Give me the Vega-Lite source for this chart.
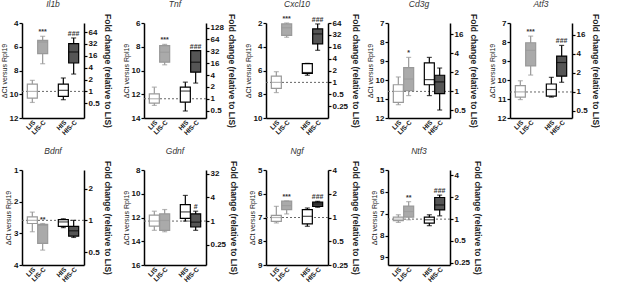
{
"$schema": "https://vega.github.io/schema/vega-lite/v6.json",
"padding": {"left": 0, "top": 0, "right": 0, "bottom": 0},
"datasets": {"boxes": [
{"gene":"Il1b","group":"LIS","min":8.83,"q1":9.14,"median":9.76,"q3":10.32,"max":10.69,"sig":""},
{"gene":"Il1b","group":"LIS-C","min":5.12,"q1":5.46,"median":5.6,"q3":6.58,"max":7.43,"sig":"***"},
{"gene":"Il1b","group":"HIS","min":8.63,"q1":9.14,"median":9.67,"q3":10.18,"max":10.46,"sig":""},
{"gene":"Il1b","group":"HIS-C","min":5.26,"q1":5.74,"median":6.44,"q3":7.37,"max":8.3,"sig":"###"},
{"gene":"Tnf","group":"LIS","min":11.4,"q1":11.96,"median":12.38,"q3":12.74,"max":12.94,"sig":""},
{"gene":"Tnf","group":"LIS-C","min":7.8,"q1":7.9,"median":8.46,"q3":9.3,"max":9.52,"sig":"***"},
{"gene":"Tnf","group":"HIS","min":10.98,"q1":11.4,"median":11.73,"q3":12.66,"max":13.41,"sig":""},
{"gene":"Tnf","group":"HIS-C","min":8.32,"q1":8.33,"median":9.3,"q3":10.14,"max":11.06,"sig":"###"},
{"gene":"Cxcl10","group":"LIS","min":6.1,"q1":6.47,"median":7.0,"q3":7.5,"max":7.86,"sig":""},
{"gene":"Cxcl10","group":"LIS-C","min":2.0,"q1":2.08,"median":2.4,"q3":3.05,"max":3.2,"sig":"***"},
{"gene":"Cxcl10","group":"HIS","min":5.4,"q1":5.42,"median":6.17,"q3":6.25,"max":6.4,"sig":""},
{"gene":"Cxcl10","group":"HIS-C","min":2.08,"q1":2.5,"median":2.92,"q3":3.75,"max":4.3,"sig":"###"},
{"gene":"Cd3g","group":"LIS","min":9.84,"q1":10.25,"median":10.6,"q3":11.18,"max":11.3,"sig":""},
{"gene":"Cd3g","group":"LIS-C","min":8.81,"q1":9.35,"median":9.95,"q3":10.56,"max":10.82,"sig":"*"},
{"gene":"Cd3g","group":"HIS","min":8.81,"q1":9.1,"median":9.98,"q3":10.25,"max":10.82,"sig":""},
{"gene":"Cd3g","group":"HIS-C","min":9.37,"q1":9.75,"median":10.1,"q3":10.72,"max":11.58,"sig":""},
{"gene":"Atf3","group":"LIS","min":10.04,"q1":10.3,"median":10.63,"q3":10.9,"max":11.03,"sig":""},
{"gene":"Atf3","group":"LIS-C","min":7.69,"q1":8.04,"median":8.44,"q3":9.26,"max":9.74,"sig":"***"},
{"gene":"Atf3","group":"HIS","min":9.86,"q1":10.21,"median":10.5,"q3":10.85,"max":10.9,"sig":""},
{"gene":"Atf3","group":"HIS-C","min":8.18,"q1":8.74,"median":9.08,"q3":9.8,"max":10.12,"sig":"###"},
{"gene":"Bdnf","group":"LIS","min":2.33,"q1":2.48,"median":2.59,"q3":2.69,"max":2.95,"sig":""},
{"gene":"Bdnf","group":"LIS-C","min":2.69,"q1":2.72,"median":2.75,"q3":3.32,"max":3.53,"sig":"**"},
{"gene":"Bdnf","group":"HIS","min":2.54,"q1":2.57,"median":2.64,"q3":2.78,"max":2.82,"sig":""},
{"gene":"Bdnf","group":"HIS-C","min":2.59,"q1":2.78,"median":2.92,"q3":3.09,"max":3.13,"sig":""},
{"gene":"Gdnf","group":"LIS","min":11.47,"q1":11.8,"median":12.3,"q3":12.72,"max":13.08,"sig":""},
{"gene":"Gdnf","group":"LIS-C","min":11.33,"q1":11.69,"median":12.25,"q3":13.08,"max":13.2,"sig":""},
{"gene":"Gdnf","group":"HIS","min":10.14,"q1":10.92,"median":11.53,"q3":12.08,"max":12.3,"sig":""},
{"gene":"Gdnf","group":"HIS-C","min":11.47,"q1":11.69,"median":12.39,"q3":12.8,"max":13.08,"sig":"#"},
{"gene":"Ngf","group":"LIS","min":6.03,"q1":6.41,"median":6.5,"q3":6.66,"max":6.73,"sig":""},
{"gene":"Ngf","group":"LIS-C","min":5.8,"q1":5.81,"median":6.0,"q3":6.17,"max":6.35,"sig":"***"},
{"gene":"Ngf","group":"HIS","min":6.1,"q1":6.17,"median":6.45,"q3":6.77,"max":6.87,"sig":""},
{"gene":"Ngf","group":"HIS-C","min":5.82,"q1":5.85,"median":5.93,"q3":6.03,"max":6.07,"sig":"###"},
{"gene":"Ntf3","group":"LIS","min":6.55,"q1":6.66,"median":6.75,"q3":6.82,"max":6.9,"sig":""},
{"gene":"Ntf3","group":"LIS-C","min":5.95,"q1":6.15,"median":6.4,"q3":6.66,"max":6.78,"sig":"**"},
{"gene":"Ntf3","group":"HIS","min":6.55,"q1":6.66,"median":6.78,"q3":6.93,"max":7.05,"sig":""},
{"gene":"Ntf3","group":"HIS-C","min":5.65,"q1":5.76,"median":6.1,"q3":6.33,"max":6.6,"sig":"###"}
]},
"data": {"name": "boxes"},
"columns": 5,
"bounds": "flush",
"spacing": {"row": 52, "column": 60},
"concat": [
{"title": "Il1b", "width": 62, "height": 95, "transform": [{"filter": "datum.gene == 'Il1b'"}],
 "resolve": {"scale": {"y": "independent"}},
 "layer": [
  {"transform": [{"filter": "datum.group == 'LIS'"}], "mark": {"type": "rule", "strokeDash": [2, 2], "color": "#666", "strokeWidth": 1},
   "encoding": {"y": {"field": "median", "type": "quantitative", "scale": {"domain": [4, 12], "reverse": true, "zero": false, "nice": false},
     "axis": {"orient": "right", "title": "Fold change (relative to LIS)", "titleAngle": 90, "titleFontWeight": "bold", "titleFontSize": 8.5, "titlePadding": 3,
       "values": [10.76, 9.76, 8.76, 7.76, 6.76, 5.76, 4.76],
       "labelExpr": "['0.5','1','2','4','16','32','64'][indexof([10.76,9.76,8.76,7.76,6.76,5.76,4.76], datum.value)]"}}}},
  {"encoding": {"x": {"field": "group", "type": "nominal", "scale": {"domain": ["LIS", "LIS-C", "sp", "HIS", "HIS-C"], "paddingInner": 0, "paddingOuter": 0.5},
     "axis": {"title": null, "labelAngle": -45, "labelAlign": "right", "labelBaseline": "top", "ticks": false, "labelFontSize": 6.5, "labelExpr": "datum.value == 'sp' ? '' : datum.value"}}},
   "layer": [
    {"mark": {"type": "rule", "strokeWidth": 1.2}, "encoding": {"y": {"field": "min", "type": "quantitative", "title": "ΔCt versus Rpl19", "scale": {"domain": [4, 12], "reverse": true, "zero": false, "nice": false}, "axis": {"values": [4, 6, 8, 10, 12]}}, "y2": {"field": "max"}, "color": {"field": "group", "type": "nominal", "scale": {"domain": ["LIS", "LIS-C", "HIS", "HIS-C"], "range": ["#999", "#999", "#000", "#000"]}, "legend": null}}},
    {"mark": {"type": "bar", "width": 10, "strokeWidth": 1.2}, "encoding": {"y": {"field": "q1", "type": "quantitative", "title": "ΔCt versus Rpl19", "scale": {"domain": [4, 12], "reverse": true, "zero": false, "nice": false}, "axis": {"values": [4, 6, 8, 10, 12]}}, "y2": {"field": "q3"}, "fill": {"field": "group", "type": "nominal", "scale": {"domain": ["LIS", "LIS-C", "HIS", "HIS-C"], "range": ["#fff", "#aaa", "#fff", "#555"]}, "legend": null}, "stroke": {"field": "group", "type": "nominal", "scale": {"domain": ["LIS", "LIS-C", "HIS", "HIS-C"], "range": ["#999", "#999", "#000", "#000"]}, "legend": null}}},
    {"mark": {"type": "tick", "size": 10, "thickness": 1.2}, "encoding": {"y": {"field": "median", "type": "quantitative", "title": "ΔCt versus Rpl19", "scale": {"domain": [4, 12], "reverse": true, "zero": false, "nice": false}, "axis": {"values": [4, 6, 8, 10, 12]}}, "color": {"field": "group", "type": "nominal", "legend": null}}},
    {"mark": {"type": "tick", "size": 5, "thickness": 1.2}, "encoding": {"y": {"field": "min", "type": "quantitative", "title": "ΔCt versus Rpl19", "scale": {"domain": [4, 12], "reverse": true, "zero": false, "nice": false}, "axis": {"values": [4, 6, 8, 10, 12]}}, "color": {"field": "group", "type": "nominal", "legend": null}}},
    {"mark": {"type": "tick", "size": 5, "thickness": 1.2}, "encoding": {"y": {"field": "max", "type": "quantitative", "title": "ΔCt versus Rpl19", "scale": {"domain": [4, 12], "reverse": true, "zero": false, "nice": false}, "axis": {"values": [4, 6, 8, 10, 12]}}, "color": {"field": "group", "type": "nominal", "legend": null}}},
    {"mark": {"type": "text", "baseline": "bottom", "dy": -1, "fontSize": 7, "fontWeight": "bold", "fill": "#333"}, "encoding": {"y": {"field": "min", "type": "quantitative", "title": "ΔCt versus Rpl19", "scale": {"domain": [4, 12], "reverse": true, "zero": false, "nice": false}, "axis": {"values": [4, 6, 8, 10, 12]}}, "text": {"field": "sig"}}}
   ]}
 ]},
{"title": "Tnf", "width": 62, "height": 95, "transform": [{"filter": "datum.gene == 'Tnf'"}],
 "resolve": {"scale": {"y": "independent"}},
 "layer": [
  {"transform": [{"filter": "datum.group == 'LIS'"}], "mark": {"type": "rule", "strokeDash": [2, 2], "color": "#666", "strokeWidth": 1},
   "encoding": {"y": {"field": "median", "type": "quantitative", "scale": {"domain": [6, 14], "reverse": true, "zero": false, "nice": false},
     "axis": {"orient": "right", "title": "Fold change (relative to LIS)", "titleAngle": 90, "titleFontWeight": "bold", "titleFontSize": 8.5, "titlePadding": 3,
       "values": [13.38, 12.38, 11.38, 10.38, 9.38, 8.38, 7.38, 6.38],
       "labelExpr": "['0.5','1','2','4','16','32','64','128'][indexof([13.38,12.38,11.38,10.38,9.38,8.38,7.38,6.38], datum.value)]"}}}},
  {"encoding": {"x": {"field": "group", "type": "nominal", "scale": {"domain": ["LIS", "LIS-C", "sp", "HIS", "HIS-C"], "paddingInner": 0, "paddingOuter": 0.5},
     "axis": {"title": null, "labelAngle": -45, "labelAlign": "right", "labelBaseline": "top", "ticks": false, "labelFontSize": 6.5, "labelExpr": "datum.value == 'sp' ? '' : datum.value"}}},
   "layer": [
    {"mark": {"type": "rule", "strokeWidth": 1.2}, "encoding": {"y": {"field": "min", "type": "quantitative", "title": "ΔCt versus Rpl19", "scale": {"domain": [6, 14], "reverse": true, "zero": false, "nice": false}, "axis": {"values": [6, 8, 10, 12, 14]}}, "y2": {"field": "max"}, "color": {"field": "group", "type": "nominal", "scale": {"domain": ["LIS", "LIS-C", "HIS", "HIS-C"], "range": ["#999", "#999", "#000", "#000"]}, "legend": null}}},
    {"mark": {"type": "bar", "width": 10, "strokeWidth": 1.2}, "encoding": {"y": {"field": "q1", "type": "quantitative", "title": "ΔCt versus Rpl19", "scale": {"domain": [6, 14], "reverse": true, "zero": false, "nice": false}, "axis": {"values": [6, 8, 10, 12, 14]}}, "y2": {"field": "q3"}, "fill": {"field": "group", "type": "nominal", "scale": {"domain": ["LIS", "LIS-C", "HIS", "HIS-C"], "range": ["#fff", "#aaa", "#fff", "#555"]}, "legend": null}, "stroke": {"field": "group", "type": "nominal", "scale": {"domain": ["LIS", "LIS-C", "HIS", "HIS-C"], "range": ["#999", "#999", "#000", "#000"]}, "legend": null}}},
    {"mark": {"type": "tick", "size": 10, "thickness": 1.2}, "encoding": {"y": {"field": "median", "type": "quantitative", "title": "ΔCt versus Rpl19", "scale": {"domain": [6, 14], "reverse": true, "zero": false, "nice": false}, "axis": {"values": [6, 8, 10, 12, 14]}}, "color": {"field": "group", "type": "nominal", "legend": null}}},
    {"mark": {"type": "tick", "size": 5, "thickness": 1.2}, "encoding": {"y": {"field": "min", "type": "quantitative", "title": "ΔCt versus Rpl19", "scale": {"domain": [6, 14], "reverse": true, "zero": false, "nice": false}, "axis": {"values": [6, 8, 10, 12, 14]}}, "color": {"field": "group", "type": "nominal", "legend": null}}},
    {"mark": {"type": "tick", "size": 5, "thickness": 1.2}, "encoding": {"y": {"field": "max", "type": "quantitative", "title": "ΔCt versus Rpl19", "scale": {"domain": [6, 14], "reverse": true, "zero": false, "nice": false}, "axis": {"values": [6, 8, 10, 12, 14]}}, "color": {"field": "group", "type": "nominal", "legend": null}}},
    {"mark": {"type": "text", "baseline": "bottom", "dy": -1, "fontSize": 7, "fontWeight": "bold", "fill": "#333"}, "encoding": {"y": {"field": "min", "type": "quantitative", "title": "ΔCt versus Rpl19", "scale": {"domain": [6, 14], "reverse": true, "zero": false, "nice": false}, "axis": {"values": [6, 8, 10, 12, 14]}}, "text": {"field": "sig"}}}
   ]}
 ]},
{"title": "Cxcl10", "width": 62, "height": 95, "transform": [{"filter": "datum.gene == 'Cxcl10'"}],
 "resolve": {"scale": {"y": "independent"}},
 "layer": [
  {"transform": [{"filter": "datum.group == 'LIS'"}], "mark": {"type": "rule", "strokeDash": [2, 2], "color": "#666", "strokeWidth": 1},
   "encoding": {"y": {"field": "median", "type": "quantitative", "scale": {"domain": [2, 10], "reverse": true, "zero": false, "nice": false},
     "axis": {"orient": "right", "title": "Fold change (relative to LIS)", "titleAngle": 90, "titleFontWeight": "bold", "titleFontSize": 8.5, "titlePadding": 3,
       "values": [9, 8, 7, 6, 5, 4, 3, 2],
       "labelExpr": "['0.25','0.5','1','2','4','16','32','64'][indexof([9,8,7,6,5,4,3,2], datum.value)]"}}}},
  {"encoding": {"x": {"field": "group", "type": "nominal", "scale": {"domain": ["LIS", "LIS-C", "sp", "HIS", "HIS-C"], "paddingInner": 0, "paddingOuter": 0.5},
     "axis": {"title": null, "labelAngle": -45, "labelAlign": "right", "labelBaseline": "top", "ticks": false, "labelFontSize": 6.5, "labelExpr": "datum.value == 'sp' ? '' : datum.value"}}},
   "layer": [
    {"mark": {"type": "rule", "strokeWidth": 1.2}, "encoding": {"y": {"field": "min", "type": "quantitative", "title": "ΔCt versus Rpl19", "scale": {"domain": [2, 10], "reverse": true, "zero": false, "nice": false}, "axis": {"values": [2, 4, 6, 8, 10]}}, "y2": {"field": "max"}, "color": {"field": "group", "type": "nominal", "scale": {"domain": ["LIS", "LIS-C", "HIS", "HIS-C"], "range": ["#999", "#999", "#000", "#000"]}, "legend": null}}},
    {"mark": {"type": "bar", "width": 10, "strokeWidth": 1.2}, "encoding": {"y": {"field": "q1", "type": "quantitative", "title": "ΔCt versus Rpl19", "scale": {"domain": [2, 10], "reverse": true, "zero": false, "nice": false}, "axis": {"values": [2, 4, 6, 8, 10]}}, "y2": {"field": "q3"}, "fill": {"field": "group", "type": "nominal", "scale": {"domain": ["LIS", "LIS-C", "HIS", "HIS-C"], "range": ["#fff", "#aaa", "#fff", "#555"]}, "legend": null}, "stroke": {"field": "group", "type": "nominal", "scale": {"domain": ["LIS", "LIS-C", "HIS", "HIS-C"], "range": ["#999", "#999", "#000", "#000"]}, "legend": null}}},
    {"mark": {"type": "tick", "size": 10, "thickness": 1.2}, "encoding": {"y": {"field": "median", "type": "quantitative", "title": "ΔCt versus Rpl19", "scale": {"domain": [2, 10], "reverse": true, "zero": false, "nice": false}, "axis": {"values": [2, 4, 6, 8, 10]}}, "color": {"field": "group", "type": "nominal", "legend": null}}},
    {"mark": {"type": "tick", "size": 5, "thickness": 1.2}, "encoding": {"y": {"field": "min", "type": "quantitative", "title": "ΔCt versus Rpl19", "scale": {"domain": [2, 10], "reverse": true, "zero": false, "nice": false}, "axis": {"values": [2, 4, 6, 8, 10]}}, "color": {"field": "group", "type": "nominal", "legend": null}}},
    {"mark": {"type": "tick", "size": 5, "thickness": 1.2}, "encoding": {"y": {"field": "max", "type": "quantitative", "title": "ΔCt versus Rpl19", "scale": {"domain": [2, 10], "reverse": true, "zero": false, "nice": false}, "axis": {"values": [2, 4, 6, 8, 10]}}, "color": {"field": "group", "type": "nominal", "legend": null}}},
    {"mark": {"type": "text", "baseline": "bottom", "dy": -1, "fontSize": 7, "fontWeight": "bold", "fill": "#333"}, "encoding": {"y": {"field": "min", "type": "quantitative", "title": "ΔCt versus Rpl19", "scale": {"domain": [2, 10], "reverse": true, "zero": false, "nice": false}, "axis": {"values": [2, 4, 6, 8, 10]}}, "text": {"field": "sig"}}}
   ]}
 ]},
{"title": "Cd3g", "width": 62, "height": 95, "transform": [{"filter": "datum.gene == 'Cd3g'"}],
 "resolve": {"scale": {"y": "independent"}},
 "layer": [
  {"transform": [{"filter": "datum.group == 'LIS'"}], "mark": {"type": "rule", "strokeDash": [2, 2], "color": "#666", "strokeWidth": 1},
   "encoding": {"y": {"field": "median", "type": "quantitative", "scale": {"domain": [7, 12], "reverse": true, "zero": false, "nice": false},
     "axis": {"orient": "right", "title": "Fold change (relative to LIS)", "titleAngle": 90, "titleFontWeight": "bold", "titleFontSize": 8.5, "titlePadding": 3,
       "values": [11.6, 10.6, 9.6, 8.6, 7.6],
       "labelExpr": "['0.5','1','2','4','16'][indexof([11.6,10.6,9.6,8.6,7.6], datum.value)]"}}}},
  {"encoding": {"x": {"field": "group", "type": "nominal", "scale": {"domain": ["LIS", "LIS-C", "sp", "HIS", "HIS-C"], "paddingInner": 0, "paddingOuter": 0.5},
     "axis": {"title": null, "labelAngle": -45, "labelAlign": "right", "labelBaseline": "top", "ticks": false, "labelFontSize": 6.5, "labelExpr": "datum.value == 'sp' ? '' : datum.value"}}},
   "layer": [
    {"mark": {"type": "rule", "strokeWidth": 1.2}, "encoding": {"y": {"field": "min", "type": "quantitative", "title": "ΔCt versus Rpl19", "scale": {"domain": [7, 12], "reverse": true, "zero": false, "nice": false}, "axis": {"values": [7, 8, 9, 10, 11, 12]}}, "y2": {"field": "max"}, "color": {"field": "group", "type": "nominal", "scale": {"domain": ["LIS", "LIS-C", "HIS", "HIS-C"], "range": ["#999", "#999", "#000", "#000"]}, "legend": null}}},
    {"mark": {"type": "bar", "width": 10, "strokeWidth": 1.2}, "encoding": {"y": {"field": "q1", "type": "quantitative", "title": "ΔCt versus Rpl19", "scale": {"domain": [7, 12], "reverse": true, "zero": false, "nice": false}, "axis": {"values": [7, 8, 9, 10, 11, 12]}}, "y2": {"field": "q3"}, "fill": {"field": "group", "type": "nominal", "scale": {"domain": ["LIS", "LIS-C", "HIS", "HIS-C"], "range": ["#fff", "#aaa", "#fff", "#555"]}, "legend": null}, "stroke": {"field": "group", "type": "nominal", "scale": {"domain": ["LIS", "LIS-C", "HIS", "HIS-C"], "range": ["#999", "#999", "#000", "#000"]}, "legend": null}}},
    {"mark": {"type": "tick", "size": 10, "thickness": 1.2}, "encoding": {"y": {"field": "median", "type": "quantitative", "title": "ΔCt versus Rpl19", "scale": {"domain": [7, 12], "reverse": true, "zero": false, "nice": false}, "axis": {"values": [7, 8, 9, 10, 11, 12]}}, "color": {"field": "group", "type": "nominal", "legend": null}}},
    {"mark": {"type": "tick", "size": 5, "thickness": 1.2}, "encoding": {"y": {"field": "min", "type": "quantitative", "title": "ΔCt versus Rpl19", "scale": {"domain": [7, 12], "reverse": true, "zero": false, "nice": false}, "axis": {"values": [7, 8, 9, 10, 11, 12]}}, "color": {"field": "group", "type": "nominal", "legend": null}}},
    {"mark": {"type": "tick", "size": 5, "thickness": 1.2}, "encoding": {"y": {"field": "max", "type": "quantitative", "title": "ΔCt versus Rpl19", "scale": {"domain": [7, 12], "reverse": true, "zero": false, "nice": false}, "axis": {"values": [7, 8, 9, 10, 11, 12]}}, "color": {"field": "group", "type": "nominal", "legend": null}}},
    {"mark": {"type": "text", "baseline": "bottom", "dy": -1, "fontSize": 7, "fontWeight": "bold", "fill": "#333"}, "encoding": {"y": {"field": "min", "type": "quantitative", "title": "ΔCt versus Rpl19", "scale": {"domain": [7, 12], "reverse": true, "zero": false, "nice": false}, "axis": {"values": [7, 8, 9, 10, 11, 12]}}, "text": {"field": "sig"}}}
   ]}
 ]},
{"title": "Atf3", "width": 62, "height": 95, "transform": [{"filter": "datum.gene == 'Atf3'"}],
 "resolve": {"scale": {"y": "independent"}},
 "layer": [
  {"transform": [{"filter": "datum.group == 'LIS'"}], "mark": {"type": "rule", "strokeDash": [2, 2], "color": "#666", "strokeWidth": 1},
   "encoding": {"y": {"field": "median", "type": "quantitative", "scale": {"domain": [7, 12], "reverse": true, "zero": false, "nice": false},
     "axis": {"orient": "right", "title": "Fold change (relative to LIS)", "titleAngle": 90, "titleFontWeight": "bold", "titleFontSize": 8.5, "titlePadding": 3,
       "values": [11.63, 10.63, 9.63, 8.63, 7.63],
       "labelExpr": "['0.5','1','2','4','16'][indexof([11.63,10.63,9.63,8.63,7.63], datum.value)]"}}}},
  {"encoding": {"x": {"field": "group", "type": "nominal", "scale": {"domain": ["LIS", "LIS-C", "sp", "HIS", "HIS-C"], "paddingInner": 0, "paddingOuter": 0.5},
     "axis": {"title": null, "labelAngle": -45, "labelAlign": "right", "labelBaseline": "top", "ticks": false, "labelFontSize": 6.5, "labelExpr": "datum.value == 'sp' ? '' : datum.value"}}},
   "layer": [
    {"mark": {"type": "rule", "strokeWidth": 1.2}, "encoding": {"y": {"field": "min", "type": "quantitative", "title": "ΔCt versus Rpl19", "scale": {"domain": [7, 12], "reverse": true, "zero": false, "nice": false}, "axis": {"values": [7, 8, 9, 10, 11, 12]}}, "y2": {"field": "max"}, "color": {"field": "group", "type": "nominal", "scale": {"domain": ["LIS", "LIS-C", "HIS", "HIS-C"], "range": ["#999", "#999", "#000", "#000"]}, "legend": null}}},
    {"mark": {"type": "bar", "width": 10, "strokeWidth": 1.2}, "encoding": {"y": {"field": "q1", "type": "quantitative", "title": "ΔCt versus Rpl19", "scale": {"domain": [7, 12], "reverse": true, "zero": false, "nice": false}, "axis": {"values": [7, 8, 9, 10, 11, 12]}}, "y2": {"field": "q3"}, "fill": {"field": "group", "type": "nominal", "scale": {"domain": ["LIS", "LIS-C", "HIS", "HIS-C"], "range": ["#fff", "#aaa", "#fff", "#555"]}, "legend": null}, "stroke": {"field": "group", "type": "nominal", "scale": {"domain": ["LIS", "LIS-C", "HIS", "HIS-C"], "range": ["#999", "#999", "#000", "#000"]}, "legend": null}}},
    {"mark": {"type": "tick", "size": 10, "thickness": 1.2}, "encoding": {"y": {"field": "median", "type": "quantitative", "title": "ΔCt versus Rpl19", "scale": {"domain": [7, 12], "reverse": true, "zero": false, "nice": false}, "axis": {"values": [7, 8, 9, 10, 11, 12]}}, "color": {"field": "group", "type": "nominal", "legend": null}}},
    {"mark": {"type": "tick", "size": 5, "thickness": 1.2}, "encoding": {"y": {"field": "min", "type": "quantitative", "title": "ΔCt versus Rpl19", "scale": {"domain": [7, 12], "reverse": true, "zero": false, "nice": false}, "axis": {"values": [7, 8, 9, 10, 11, 12]}}, "color": {"field": "group", "type": "nominal", "legend": null}}},
    {"mark": {"type": "tick", "size": 5, "thickness": 1.2}, "encoding": {"y": {"field": "max", "type": "quantitative", "title": "ΔCt versus Rpl19", "scale": {"domain": [7, 12], "reverse": true, "zero": false, "nice": false}, "axis": {"values": [7, 8, 9, 10, 11, 12]}}, "color": {"field": "group", "type": "nominal", "legend": null}}},
    {"mark": {"type": "text", "baseline": "bottom", "dy": -1, "fontSize": 7, "fontWeight": "bold", "fill": "#333"}, "encoding": {"y": {"field": "min", "type": "quantitative", "title": "ΔCt versus Rpl19", "scale": {"domain": [7, 12], "reverse": true, "zero": false, "nice": false}, "axis": {"values": [7, 8, 9, 10, 11, 12]}}, "text": {"field": "sig"}}}
   ]}
 ]},
{"title": "Bdnf", "width": 62, "height": 95, "transform": [{"filter": "datum.gene == 'Bdnf'"}],
 "resolve": {"scale": {"y": "independent"}},
 "layer": [
  {"transform": [{"filter": "datum.group == 'LIS'"}], "mark": {"type": "rule", "strokeDash": [2, 2], "color": "#666", "strokeWidth": 1},
   "encoding": {"y": {"field": "median", "type": "quantitative", "scale": {"domain": [1, 4], "reverse": true, "zero": false, "nice": false},
     "axis": {"orient": "right", "title": "Fold change (relative to LIS)", "titleAngle": 90, "titleFontWeight": "bold", "titleFontSize": 8.5, "titlePadding": 3,
       "values": [3.59, 2.59, 1.59],
       "labelExpr": "['0.5','1','2'][indexof([3.59,2.59,1.59], datum.value)]"}}}},
  {"encoding": {"x": {"field": "group", "type": "nominal", "scale": {"domain": ["LIS", "LIS-C", "sp", "HIS", "HIS-C"], "paddingInner": 0, "paddingOuter": 0.5},
     "axis": {"title": null, "labelAngle": -45, "labelAlign": "right", "labelBaseline": "top", "ticks": false, "labelFontSize": 6.5, "labelExpr": "datum.value == 'sp' ? '' : datum.value"}}},
   "layer": [
    {"mark": {"type": "rule", "strokeWidth": 1.2}, "encoding": {"y": {"field": "min", "type": "quantitative", "title": "ΔCt versus Rpl19", "scale": {"domain": [1, 4], "reverse": true, "zero": false, "nice": false}, "axis": {"values": [1, 2, 3, 4]}}, "y2": {"field": "max"}, "color": {"field": "group", "type": "nominal", "scale": {"domain": ["LIS", "LIS-C", "HIS", "HIS-C"], "range": ["#999", "#999", "#000", "#000"]}, "legend": null}}},
    {"mark": {"type": "bar", "width": 10, "strokeWidth": 1.2}, "encoding": {"y": {"field": "q1", "type": "quantitative", "title": "ΔCt versus Rpl19", "scale": {"domain": [1, 4], "reverse": true, "zero": false, "nice": false}, "axis": {"values": [1, 2, 3, 4]}}, "y2": {"field": "q3"}, "fill": {"field": "group", "type": "nominal", "scale": {"domain": ["LIS", "LIS-C", "HIS", "HIS-C"], "range": ["#fff", "#aaa", "#fff", "#555"]}, "legend": null}, "stroke": {"field": "group", "type": "nominal", "scale": {"domain": ["LIS", "LIS-C", "HIS", "HIS-C"], "range": ["#999", "#999", "#000", "#000"]}, "legend": null}}},
    {"mark": {"type": "tick", "size": 10, "thickness": 1.2}, "encoding": {"y": {"field": "median", "type": "quantitative", "title": "ΔCt versus Rpl19", "scale": {"domain": [1, 4], "reverse": true, "zero": false, "nice": false}, "axis": {"values": [1, 2, 3, 4]}}, "color": {"field": "group", "type": "nominal", "legend": null}}},
    {"mark": {"type": "tick", "size": 5, "thickness": 1.2}, "encoding": {"y": {"field": "min", "type": "quantitative", "title": "ΔCt versus Rpl19", "scale": {"domain": [1, 4], "reverse": true, "zero": false, "nice": false}, "axis": {"values": [1, 2, 3, 4]}}, "color": {"field": "group", "type": "nominal", "legend": null}}},
    {"mark": {"type": "tick", "size": 5, "thickness": 1.2}, "encoding": {"y": {"field": "max", "type": "quantitative", "title": "ΔCt versus Rpl19", "scale": {"domain": [1, 4], "reverse": true, "zero": false, "nice": false}, "axis": {"values": [1, 2, 3, 4]}}, "color": {"field": "group", "type": "nominal", "legend": null}}},
    {"mark": {"type": "text", "baseline": "bottom", "dy": -1, "fontSize": 7, "fontWeight": "bold", "fill": "#333"}, "encoding": {"y": {"field": "min", "type": "quantitative", "title": "ΔCt versus Rpl19", "scale": {"domain": [1, 4], "reverse": true, "zero": false, "nice": false}, "axis": {"values": [1, 2, 3, 4]}}, "text": {"field": "sig"}}}
   ]}
 ]},
{"title": "Gdnf", "width": 62, "height": 95, "transform": [{"filter": "datum.gene == 'Gdnf'"}],
 "resolve": {"scale": {"y": "independent"}},
 "layer": [
  {"transform": [{"filter": "datum.group == 'LIS'"}], "mark": {"type": "rule", "strokeDash": [2, 2], "color": "#666", "strokeWidth": 1},
   "encoding": {"y": {"field": "median", "type": "quantitative", "scale": {"domain": [8, 16], "reverse": true, "zero": false, "nice": false},
     "axis": {"orient": "right", "title": "Fold change (relative to LIS)", "titleAngle": 90, "titleFontWeight": "bold", "titleFontSize": 8.5, "titlePadding": 3,
       "values": [14.3, 12.3, 10.3, 8.3],
       "labelExpr": "['0.25','1','4','32'][indexof([14.3,12.3,10.3,8.3], datum.value)]"}}}},
  {"encoding": {"x": {"field": "group", "type": "nominal", "scale": {"domain": ["LIS", "LIS-C", "sp", "HIS", "HIS-C"], "paddingInner": 0, "paddingOuter": 0.5},
     "axis": {"title": null, "labelAngle": -45, "labelAlign": "right", "labelBaseline": "top", "ticks": false, "labelFontSize": 6.5, "labelExpr": "datum.value == 'sp' ? '' : datum.value"}}},
   "layer": [
    {"mark": {"type": "rule", "strokeWidth": 1.2}, "encoding": {"y": {"field": "min", "type": "quantitative", "title": "ΔCt versus Rpl19", "scale": {"domain": [8, 16], "reverse": true, "zero": false, "nice": false}, "axis": {"values": [8, 10, 12, 14, 16]}}, "y2": {"field": "max"}, "color": {"field": "group", "type": "nominal", "scale": {"domain": ["LIS", "LIS-C", "HIS", "HIS-C"], "range": ["#999", "#999", "#000", "#000"]}, "legend": null}}},
    {"mark": {"type": "bar", "width": 10, "strokeWidth": 1.2}, "encoding": {"y": {"field": "q1", "type": "quantitative", "title": "ΔCt versus Rpl19", "scale": {"domain": [8, 16], "reverse": true, "zero": false, "nice": false}, "axis": {"values": [8, 10, 12, 14, 16]}}, "y2": {"field": "q3"}, "fill": {"field": "group", "type": "nominal", "scale": {"domain": ["LIS", "LIS-C", "HIS", "HIS-C"], "range": ["#fff", "#aaa", "#fff", "#555"]}, "legend": null}, "stroke": {"field": "group", "type": "nominal", "scale": {"domain": ["LIS", "LIS-C", "HIS", "HIS-C"], "range": ["#999", "#999", "#000", "#000"]}, "legend": null}}},
    {"mark": {"type": "tick", "size": 10, "thickness": 1.2}, "encoding": {"y": {"field": "median", "type": "quantitative", "title": "ΔCt versus Rpl19", "scale": {"domain": [8, 16], "reverse": true, "zero": false, "nice": false}, "axis": {"values": [8, 10, 12, 14, 16]}}, "color": {"field": "group", "type": "nominal", "legend": null}}},
    {"mark": {"type": "tick", "size": 5, "thickness": 1.2}, "encoding": {"y": {"field": "min", "type": "quantitative", "title": "ΔCt versus Rpl19", "scale": {"domain": [8, 16], "reverse": true, "zero": false, "nice": false}, "axis": {"values": [8, 10, 12, 14, 16]}}, "color": {"field": "group", "type": "nominal", "legend": null}}},
    {"mark": {"type": "tick", "size": 5, "thickness": 1.2}, "encoding": {"y": {"field": "max", "type": "quantitative", "title": "ΔCt versus Rpl19", "scale": {"domain": [8, 16], "reverse": true, "zero": false, "nice": false}, "axis": {"values": [8, 10, 12, 14, 16]}}, "color": {"field": "group", "type": "nominal", "legend": null}}},
    {"mark": {"type": "text", "baseline": "bottom", "dy": -1, "fontSize": 7, "fontWeight": "bold", "fill": "#333"}, "encoding": {"y": {"field": "min", "type": "quantitative", "title": "ΔCt versus Rpl19", "scale": {"domain": [8, 16], "reverse": true, "zero": false, "nice": false}, "axis": {"values": [8, 10, 12, 14, 16]}}, "text": {"field": "sig"}}}
   ]}
 ]},
{"title": "Ngf", "width": 62, "height": 95, "transform": [{"filter": "datum.gene == 'Ngf'"}],
 "resolve": {"scale": {"y": "independent"}},
 "layer": [
  {"transform": [{"filter": "datum.group == 'LIS'"}], "mark": {"type": "rule", "strokeDash": [2, 2], "color": "#666", "strokeWidth": 1},
   "encoding": {"y": {"field": "median", "type": "quantitative", "scale": {"domain": [4.5, 8.5], "reverse": true, "zero": false, "nice": false},
     "axis": {"orient": "right", "title": "Fold change (relative to LIS)", "titleAngle": 90, "titleFontWeight": "bold", "titleFontSize": 8.5, "titlePadding": 3,
       "values": [8.5, 7.5, 6.5, 5.5, 4.5],
       "labelExpr": "['0.25','0.5','1','2','4'][indexof([8.5,7.5,6.5,5.5,4.5], datum.value)]"}}}},
  {"encoding": {"x": {"field": "group", "type": "nominal", "scale": {"domain": ["LIS", "LIS-C", "sp", "HIS", "HIS-C"], "paddingInner": 0, "paddingOuter": 0.5},
     "axis": {"title": null, "labelAngle": -45, "labelAlign": "right", "labelBaseline": "top", "ticks": false, "labelFontSize": 6.5, "labelExpr": "datum.value == 'sp' ? '' : datum.value"}}},
   "layer": [
    {"mark": {"type": "rule", "strokeWidth": 1.2}, "encoding": {"y": {"field": "min", "type": "quantitative", "title": "ΔCt versus Rpl19", "scale": {"domain": [4.5, 8.5], "reverse": true, "zero": false, "nice": false}, "axis": {"values": [4.5, 5.5, 6.5, 7.5, 8.5]}}, "y2": {"field": "max"}, "color": {"field": "group", "type": "nominal", "scale": {"domain": ["LIS", "LIS-C", "HIS", "HIS-C"], "range": ["#999", "#999", "#000", "#000"]}, "legend": null}}},
    {"mark": {"type": "bar", "width": 10, "strokeWidth": 1.2}, "encoding": {"y": {"field": "q1", "type": "quantitative", "title": "ΔCt versus Rpl19", "scale": {"domain": [4.5, 8.5], "reverse": true, "zero": false, "nice": false}, "axis": {"values": [4.5, 5.5, 6.5, 7.5, 8.5]}}, "y2": {"field": "q3"}, "fill": {"field": "group", "type": "nominal", "scale": {"domain": ["LIS", "LIS-C", "HIS", "HIS-C"], "range": ["#fff", "#aaa", "#fff", "#555"]}, "legend": null}, "stroke": {"field": "group", "type": "nominal", "scale": {"domain": ["LIS", "LIS-C", "HIS", "HIS-C"], "range": ["#999", "#999", "#000", "#000"]}, "legend": null}}},
    {"mark": {"type": "tick", "size": 10, "thickness": 1.2}, "encoding": {"y": {"field": "median", "type": "quantitative", "title": "ΔCt versus Rpl19", "scale": {"domain": [4.5, 8.5], "reverse": true, "zero": false, "nice": false}, "axis": {"values": [4.5, 5.5, 6.5, 7.5, 8.5]}}, "color": {"field": "group", "type": "nominal", "legend": null}}},
    {"mark": {"type": "tick", "size": 5, "thickness": 1.2}, "encoding": {"y": {"field": "min", "type": "quantitative", "title": "ΔCt versus Rpl19", "scale": {"domain": [4.5, 8.5], "reverse": true, "zero": false, "nice": false}, "axis": {"values": [4.5, 5.5, 6.5, 7.5, 8.5]}}, "color": {"field": "group", "type": "nominal", "legend": null}}},
    {"mark": {"type": "tick", "size": 5, "thickness": 1.2}, "encoding": {"y": {"field": "max", "type": "quantitative", "title": "ΔCt versus Rpl19", "scale": {"domain": [4.5, 8.5], "reverse": true, "zero": false, "nice": false}, "axis": {"values": [4.5, 5.5, 6.5, 7.5, 8.5]}}, "color": {"field": "group", "type": "nominal", "legend": null}}},
    {"mark": {"type": "text", "baseline": "bottom", "dy": -1, "fontSize": 7, "fontWeight": "bold", "fill": "#333"}, "encoding": {"y": {"field": "min", "type": "quantitative", "title": "ΔCt versus Rpl19", "scale": {"domain": [4.5, 8.5], "reverse": true, "zero": false, "nice": false}, "axis": {"values": [4.5, 5.5, 6.5, 7.5, 8.5]}}, "text": {"field": "sig"}}}
   ]}
 ]},
{"title": "Ntf3", "width": 62, "height": 95, "transform": [{"filter": "datum.gene == 'Ntf3'"}],
 "resolve": {"scale": {"y": "independent"}},
 "layer": [
  {"transform": [{"filter": "datum.group == 'LIS'"}], "mark": {"type": "rule", "strokeDash": [2, 2], "color": "#666", "strokeWidth": 1},
   "encoding": {"y": {"field": "median", "type": "quantitative", "scale": {"domain": [4.5, 8.85], "reverse": true, "zero": false, "nice": false},
     "axis": {"orient": "right", "title": "Fold change (relative to LIS)", "titleAngle": 90, "titleFontWeight": "bold", "titleFontSize": 8.5, "titlePadding": 3,
       "values": [8.75, 7.75, 6.75, 5.75, 4.75],
       "labelExpr": "['0.25','0.5','1','2','4'][indexof([8.75,7.75,6.75,5.75,4.75], datum.value)]"}}}},
  {"encoding": {"x": {"field": "group", "type": "nominal", "scale": {"domain": ["LIS", "LIS-C", "sp", "HIS", "HIS-C"], "paddingInner": 0, "paddingOuter": 0.5},
     "axis": {"title": null, "labelAngle": -45, "labelAlign": "right", "labelBaseline": "top", "ticks": false, "labelFontSize": 6.5, "labelExpr": "datum.value == 'sp' ? '' : datum.value"}}},
   "layer": [
    {"mark": {"type": "rule", "strokeWidth": 1.2}, "encoding": {"y": {"field": "min", "type": "quantitative", "title": "ΔCt versus Rpl19", "scale": {"domain": [4.5, 8.85], "reverse": true, "zero": false, "nice": false}, "axis": {"values": [4.5, 5.5, 6.5, 7.5, 8.5]}}, "y2": {"field": "max"}, "color": {"field": "group", "type": "nominal", "scale": {"domain": ["LIS", "LIS-C", "HIS", "HIS-C"], "range": ["#999", "#999", "#000", "#000"]}, "legend": null}}},
    {"mark": {"type": "bar", "width": 10, "strokeWidth": 1.2}, "encoding": {"y": {"field": "q1", "type": "quantitative", "title": "ΔCt versus Rpl19", "scale": {"domain": [4.5, 8.85], "reverse": true, "zero": false, "nice": false}, "axis": {"values": [4.5, 5.5, 6.5, 7.5, 8.5]}}, "y2": {"field": "q3"}, "fill": {"field": "group", "type": "nominal", "scale": {"domain": ["LIS", "LIS-C", "HIS", "HIS-C"], "range": ["#fff", "#aaa", "#fff", "#555"]}, "legend": null}, "stroke": {"field": "group", "type": "nominal", "scale": {"domain": ["LIS", "LIS-C", "HIS", "HIS-C"], "range": ["#999", "#999", "#000", "#000"]}, "legend": null}}},
    {"mark": {"type": "tick", "size": 10, "thickness": 1.2}, "encoding": {"y": {"field": "median", "type": "quantitative", "title": "ΔCt versus Rpl19", "scale": {"domain": [4.5, 8.85], "reverse": true, "zero": false, "nice": false}, "axis": {"values": [4.5, 5.5, 6.5, 7.5, 8.5]}}, "color": {"field": "group", "type": "nominal", "legend": null}}},
    {"mark": {"type": "tick", "size": 5, "thickness": 1.2}, "encoding": {"y": {"field": "min", "type": "quantitative", "title": "ΔCt versus Rpl19", "scale": {"domain": [4.5, 8.85], "reverse": true, "zero": false, "nice": false}, "axis": {"values": [4.5, 5.5, 6.5, 7.5, 8.5]}}, "color": {"field": "group", "type": "nominal", "legend": null}}},
    {"mark": {"type": "tick", "size": 5, "thickness": 1.2}, "encoding": {"y": {"field": "max", "type": "quantitative", "title": "ΔCt versus Rpl19", "scale": {"domain": [4.5, 8.85], "reverse": true, "zero": false, "nice": false}, "axis": {"values": [4.5, 5.5, 6.5, 7.5, 8.5]}}, "color": {"field": "group", "type": "nominal", "legend": null}}},
    {"mark": {"type": "text", "baseline": "bottom", "dy": -1, "fontSize": 7, "fontWeight": "bold", "fill": "#333"}, "encoding": {"y": {"field": "min", "type": "quantitative", "title": "ΔCt versus Rpl19", "scale": {"domain": [4.5, 8.85], "reverse": true, "zero": false, "nice": false}, "axis": {"values": [4.5, 5.5, 6.5, 7.5, 8.5]}}, "text": {"field": "sig"}}}
   ]}
 ]}
],
"config": {
 "font": "Liberation Sans",
 "view": {"stroke": null},
 "axis": {"grid": false, "labelOverlap": false, "domainColor": "#000", "domainWidth": 1.5, "tickColor": "#000", "tickWidth": 1.2, "tickSize": 3, "labelFontSize": 8, "labelFontWeight": "bold", "labelColor": "#111", "labelPadding": 1, "titleFontSize": 7, "titleFontWeight": "normal", "titleColor": "#222", "titlePadding": 2},
 "title": {"fontSize": 8.5, "fontStyle": "italic", "fontWeight": "normal", "color": "#333", "offset": 5}
}
}
